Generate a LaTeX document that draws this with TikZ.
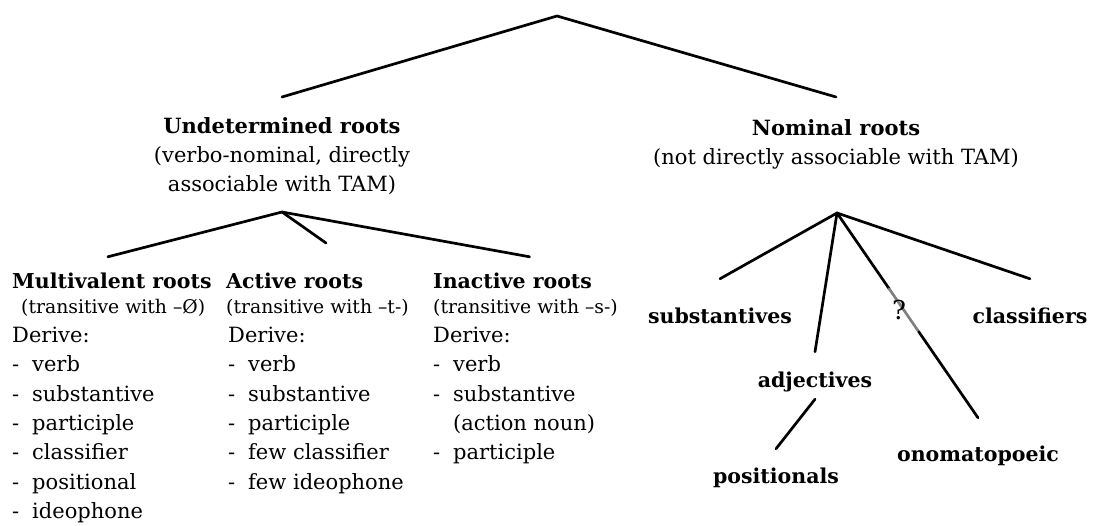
\documentclass[tikz,border=0pt]{standalone}
\usepackage{fontspec}
\setmainfont{DejaVu Serif}
\usetikzlibrary{positioning,calc}
\tikzset{
	branch/.style={line width=2.7pt, line cap=round},
	heading/.style={align=center, inner sep=0pt, anchor=north, font=\fontsize{21}{29}\selectfont},
	rootname/.style={inner sep=0pt, anchor=base west, text height=16pt, text depth=5pt, font=\bfseries\fontsize{20.5}{24}\selectfont},
	gloss/.style={inner sep=0pt, text height=14pt, text depth=4pt, font=\fontsize{18.8}{22}\selectfont},
	derive/.style={align=left, inner sep=0pt, font=\fontsize{21}{29.4}\selectfont},
	leaf/.style={inner sep=0pt, anchor=base, text height=16pt, text depth=5pt, font=\bfseries\fontsize{20.5}{24}\selectfont}
}
\newcommand{\dashitem}[1]{\makebox[20pt][l]{-}#1}

\begin{document}
\begin{tikzpicture}[x=1pt, y=-1pt]
\useasboundingbox (0,0) rectangle (1095,526);

% top level
\coordinate (top) at (557,16);
\node[heading] (undet) at (282,117.5) {\textbf{Undetermined roots}\\(verbo-nominal, directly\\associable with TAM)};
\node[heading] (nom) at (836,119) {\textbf{Nominal roots}\\(not directly associable with TAM)};
\draw[branch] ([yshift=20.5pt]undet.north) -- (top) -- ([yshift=22pt]nom.north);

% undetermined roots
\coordinate (ufork) at (282,212);
\coordinate (ustub) at (326,243);
\node[rootname] (multi) at (12,289) {Multivalent roots};
\node[rootname] (act) at (226,289) {Active roots};
\node[rootname] (inact) at (433,289) {Inactive roots};
\draw[branch] ([xshift=-4pt,yshift=16pt]multi.north) -- (ufork) -- ([xshift=17pt,yshift=16pt]inact.north);
\draw[branch] (ufork) -- (ustub);

\node[gloss, below right=5pt and 9pt of multi.south west] (multi-gl) {(transitive with –Ø)};
\node[gloss, below right=5pt and 0pt of act.south west] (act-gl) {(transitive with –t-)};
\node[gloss, below right=5pt and 0pt of inact.south west] (inact-gl) {(transitive with –s-)};

\node[derive, below right=9pt and 0pt of multi.south west |- multi-gl.south] (multi-der)
	{Derive:\\\dashitem{verb}\\\dashitem{substantive}\\\dashitem{participle}\\\dashitem{classifier}\\\dashitem{positional}\\\dashitem{ideophone}};
\node[derive, below right=9pt and 2pt of act-gl.south west] (act-der)
	{Derive:\\\dashitem{verb}\\\dashitem{substantive}\\\dashitem{participle}\\\dashitem{few classifier}\\\dashitem{few ideophone}};
\node[derive, below right=9pt and 0pt of inact-gl.south west] (inact-der)
	{Derive:\\\dashitem{verb}\\\dashitem{substantive}\\\hspace*{20pt}(action noun)\\\dashitem{participle}};

% nominal roots
\coordinate (nfork) at (837,213);
\node[leaf] (subst) at (720,324) {substantives};
\node[leaf] (adj) at (815,388) {adjectives};
\node[leaf] (pos) at (776,483) {positionals};
\node[leaf] (ono) at (978,461) {onomatopoeic};
\node[leaf] (clas) at (1030,324) {classifiers};

\draw[branch] ([yshift=29pt]subst.north) -- (nfork) -- ([yshift=29pt]clas.north);
\draw[branch] (nfork) -- ([yshift=20pt]adj.north);
\draw[branch] ([yshift=-6pt]adj.south) -- ([yshift=18pt]pos.north);
\coordinate (ono-in) at ([yshift=27pt]ono.north);
\draw[branch] (nfork) -- ($(nfork)!0.37!(ono-in)$);
\draw[branch, gray] ($(nfork)!0.37!(ono-in)$) -- ($(nfork)!0.58!(ono-in)$);
\draw[branch] ($(nfork)!0.58!(ono-in)$) -- (ono-in);
\node[inner sep=0pt, font=\fontsize{26}{30}\selectfont] (qmark) at (899,310) {?};
\end{tikzpicture}
\end{document}
